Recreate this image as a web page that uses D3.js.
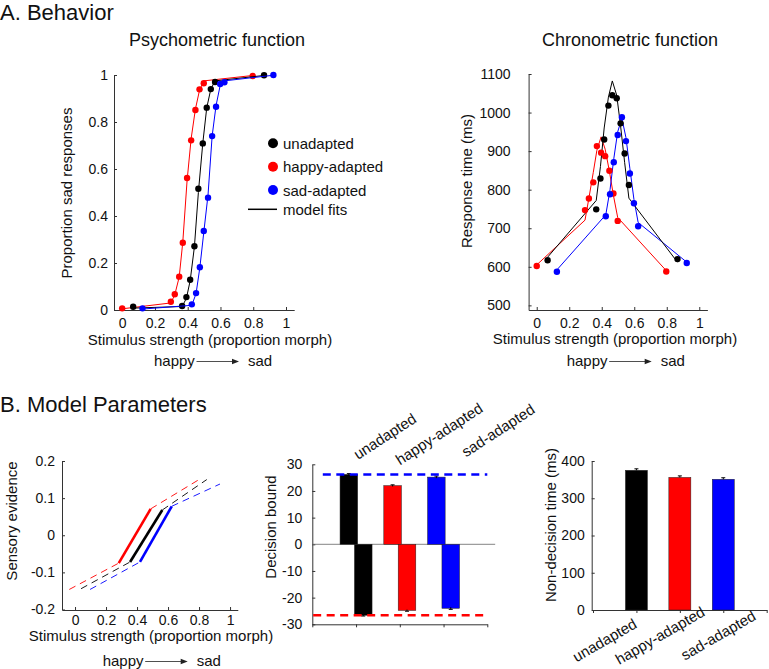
<!DOCTYPE html>
<html><head><meta charset="utf-8">
<script src="https://cdn.jsdelivr.net/npm/d3@7"></script>
<style>
body{margin:0;background:#fff}
svg{display:block}
text{font-family:"Liberation Sans",Arial,Helvetica,sans-serif;fill:#111}
</style>
</head><body>
<svg id="c" width="769" height="669"></svg>
<script>
// ---------------- DATA ----------------
const conditions = ["unadapted", "happy-adapted", "sad-adapted"];
const condColors = ["#000000", "#ff0000", "#0000ff"];

// Psychometric function (stimulus level, proportion sad, model fit)
const psychX_unadapted = [0.067, 0.366, 0.392, 0.415, 0.441, 0.465, 0.492, 0.516, 0.541, 0.567, 0.866];
const psychY_unadapted = [0.014, 0.017, 0.055, 0.129, 0.271, 0.516, 0.709, 0.861, 0.940, 0.970, 0.999];
const psychFit_unadapted = [0.008, 0.015, 0.050, 0.125, 0.270, 0.500, 0.710, 0.860, 0.940, 0.975, 0.998];

const psychX_happy = [0.000, 0.297, 0.321, 0.348, 0.370, 0.396, 0.421, 0.447, 0.472, 0.498, 0.797];
const psychY_happy = [0.007, 0.035, 0.067, 0.142, 0.286, 0.562, 0.722, 0.851, 0.939, 0.965, 0.996];
const psychFit_happy = [0.005, 0.030, 0.065, 0.140, 0.290, 0.550, 0.730, 0.855, 0.935, 0.975, 0.998];

const psychX_sad = [0.124, 0.425, 0.451, 0.474, 0.498, 0.524, 0.549, 0.573, 0.598, 0.624, 0.923];
const psychY_sad = [0.007, 0.024, 0.072, 0.182, 0.336, 0.478, 0.740, 0.865, 0.962, 0.969, 1.000];
const psychFit_sad = [0.004, 0.020, 0.070, 0.180, 0.330, 0.490, 0.740, 0.870, 0.955, 0.975, 0.999];

// Chronometric function (response time, ms)
const chronoY_unadapted = [617, 749, 829, 930, 1018, 1045, 1037, 972, 894, 812, 620];
const chronoFit_unadapted = [625, 772, 860, 960, 1040, 1082, 1045, 965, 870, 778, 612];
const chronoY_happy = [602, 747, 777, 819, 913, 896, 887, 849, 790, 719, 588];
const chronoFit_happy = [605, 721, 778, 845, 902, 937, 905, 848, 785, 728, 590];
const chronoY_sad = [587, 731, 788, 871, 942, 988, 926, 842, 765, 705, 610];
const chronoFit_sad = [592, 735, 800, 880, 950, 985, 935, 855, 775, 715, 612];

// Sensory evidence (piecewise: dashed, solid, dashed)
const sensX_unadapted = [0.039, 0.355, 0.563, 0.850];
const sensY_unadapted = [-0.144, -0.072, 0.068, 0.150];
const sensX_happy = [-0.037, 0.282, 0.488, 0.800];
const sensY_happy = [-0.146, -0.075, 0.071, 0.150];
const sensX_sad = [0.097, 0.419, 0.624, 0.935];
const sensY_sad = [-0.146, -0.072, 0.078, 0.138];

// Decision bounds
const boundUpper = [26.2, 22.0, 25.2];
const boundLower = [-26.6, -24.8, -24.0];
const boundErr = [0.3, 0.3, 0.4];
const boundRefUpper = 26.2;
const boundRefLower = -26.6;

// Non-decision time (ms)
const nonDecision = [375, 356, 351];
const nonDecisionErr = [4, 4, 4];

// Tick labels
const psychXTicks = [0, 0.2, 0.4, 0.6, 0.8, 1];
const psychYTicks = [0, 0.2, 0.4, 0.6, 0.8, 1];
const chronoYTicks = [500, 600, 700, 800, 900, 1000, 1100];
const sensYTicks = [-0.2, -0.1, 0, 0.1, 0.2];
const boundYTicks = [-30, -20, -10, 0, 10, 20, 30];
const ndYTicks = [0, 100, 200, 300, 400];

// ---------------- DRAW ----------------
const svg = d3.select("#c");
const FS = 15, TFS = 14;

function styleAxis(g) {
  g.select(".domain").attr("stroke", "#333").attr("stroke-width", 1);
  g.selectAll(".tick line").attr("stroke", "#333");
  g.selectAll(".tick text").attr("font-size", TFS).attr("fill", "#111")
    .attr("font-family", "'Liberation Sans',Arial,sans-serif");
}
const fmt = d => String(d);

function text(x, y, s, size, anchor, rot) {
  const t = svg.append("text").attr("font-size", size).attr("text-anchor", anchor || "start").text(s);
  if (rot) t.attr("transform", `translate(${x},${y}) rotate(${rot})`);
  else t.attr("x", x).attr("y", y);
  return t;
}
function happySad(x0, yb) {
  text(x0, yb, "happy", FS);
  svg.append("line").attr("x1", x0 + 42.5).attr("x2", x0 + 80).attr("y1", yb - 4.5).attr("y2", yb - 4.5)
    .attr("stroke", "#222").attr("stroke-width", 0.8);
  svg.append("path").attr("d", `M${x0 + 85},${yb - 4.5} L${x0 + 78},${yb - 7.2} L${x0 + 78},${yb - 1.8} Z`).attr("fill", "#222");
  text(x0 + 94, yb, "sad", FS);
}

// Section titles
text(0, 20, "A. Behavior", 22);
text(0, 412, "B. Model Parameters", 22);

// ===== A1: Psychometric =====
const xP = d3.scaleLinear().domain([-0.05, 1.05]).range([114, 294.2]);
const yP = d3.scaleLinear().domain([0, 1]).range([310, 75]);
text(217, 46, "Psychometric function", 18, "middle");
svg.append("g").attr("transform", "translate(0,310)")
  .call(d3.axisBottom(xP).tickValues(psychXTicks).tickFormat(fmt).tickSizeInner(-3).tickSizeOuter(0).tickPadding(8))
  .call(styleAxis);
svg.append("g").attr("transform", "translate(114,0)")
  .call(d3.axisLeft(yP).tickValues(psychYTicks).tickFormat(fmt).tickSizeInner(-3).tickSizeOuter(0).tickPadding(6))
  .call(styleAxis);
text(72, 193, "Proportion sad responses", FS, "middle", -90);
text(210, 345, "Stimulus strength (proportion morph)", FS, "middle");
happySad(154, 366);

const psychSets = [
  [psychX_unadapted, psychY_unadapted, psychFit_unadapted],
  [psychX_happy, psychY_happy, psychFit_happy],
  [psychX_sad, psychY_sad, psychFit_sad]
];
const lineP = d3.line().x(d => xP(d[0])).y(d => yP(d[1]));
[1, 0, 2].forEach(i => {
  const [xs, ys, fs] = psychSets[i];
  svg.append("path").attr("d", lineP(xs.map((x, k) => [x, fs[k]])))
    .attr("fill", "none").attr("stroke", condColors[i]).attr("stroke-width", 1);
  svg.append("g").selectAll("circle").data(xs.map((x, k) => [x, ys[k]])).join("circle")
    .attr("cx", d => xP(d[0])).attr("cy", d => yP(d[1])).attr("r", 3.2).attr("fill", condColors[i]);
});

// legend
const legY = [143.3, 166.7, 190];
conditions.forEach((c, i) => {
  svg.append("circle").attr("cx", 273).attr("cy", legY[i]).attr("r", 5).attr("fill", condColors[i]);
  text(283, legY[i] + 5.5, c, FS);
});
svg.append("line").attr("x1", 248).attr("x2", 277).attr("y1", 209.3).attr("y2", 209.3).attr("stroke", "#000").attr("stroke-width", 1.5);
text(283, 214.5, "model fits", FS);

// ===== A2: Chronometric =====
const xC = d3.scaleLinear().domain([-0.05, 1.05]).range([528.6, 707.4]);
const yC = d3.scaleLinear().domain([488, 1100]).range([310, 74]);
text(630, 46, "Chronometric function", 18, "middle");
svg.append("g").attr("transform", "translate(0,310)")
  .call(d3.axisBottom(xC).tickValues(psychXTicks).tickFormat(fmt).tickSizeInner(-3).tickSizeOuter(0).tickPadding(8))
  .call(styleAxis);
svg.append("g").attr("transform", "translate(528.6,0)")
  .call(d3.axisLeft(yC).tickValues(chronoYTicks).tickFormat(fmt).tickSizeInner(-3).tickSizeOuter(0).tickPadding(18))
  .call(styleAxis);
text(472, 181, "Response time (ms)", FS, "middle", -90);
text(615, 344, "Stimulus strength (proportion morph)", FS, "middle");
happySad(566.7, 366);

const chronoSets = [
  [psychX_unadapted, chronoY_unadapted, chronoFit_unadapted],
  [psychX_happy, chronoY_happy, chronoFit_happy],
  [psychX_sad, chronoY_sad, chronoFit_sad]
];
const lineC = d3.line().x(d => xC(d[0])).y(d => yC(d[1]));
[1, 2, 0].forEach(i => {
  const [xs, ys, fs] = chronoSets[i];
  svg.append("path").attr("d", lineC(xs.map((x, k) => [x, fs[k]])))
    .attr("fill", "none").attr("stroke", condColors[i]).attr("stroke-width", 1);
});
[1, 2, 0].forEach(i => {
  const [xs, ys] = chronoSets[i];
  svg.append("g").selectAll("circle").data(xs.map((x, k) => [x, ys[k]])).join("circle")
    .attr("cx", d => xC(d[0])).attr("cy", d => yC(d[1])).attr("r", 3.2).attr("fill", condColors[i]);
});

// ===== B1: Sensory evidence =====
const xS = d3.scaleLinear().domain([-0.084, 1.05]).range([62, 237.8]);
const yS = d3.scaleLinear().domain([-0.2, 0.2]).range([609.5, 461]);
svg.append("g").attr("transform", "translate(0,610)")
  .call(d3.axisBottom(xS).tickValues(psychXTicks).tickFormat(fmt).tickSizeInner(-3).tickSizeOuter(0).tickPadding(5))
  .call(styleAxis);
svg.append("g").attr("transform", "translate(62,0)")
  .call(d3.axisLeft(yS).tickValues(sensYTicks).tickFormat(fmt).tickSizeInner(-3).tickSizeOuter(0).tickPadding(7))
  .call(styleAxis);
text(17, 521, "Sensory evidence", FS, "middle", -90);
text(151, 641, "Stimulus strength (proportion morph)", FS, "middle");
happySad(102.7, 666);

const sensSets = [[sensX_unadapted, sensY_unadapted], [sensX_happy, sensY_happy], [sensX_sad, sensY_sad]];
sensSets.forEach(([xs, ys], i) => {
  const seg = (a, b, dashed) => svg.append("line")
    .attr("x1", xS(xs[a])).attr("y1", yS(ys[a])).attr("x2", xS(xs[b])).attr("y2", yS(ys[b]))
    .attr("stroke", condColors[i]).attr("stroke-width", dashed ? 0.9 : 2.6)
    .attr("stroke-dasharray", dashed ? "7,5" : null);
  seg(0, 1, true); seg(2, 3, true); seg(1, 2, false);
});

// ===== B2: Decision bound =====
const xB = d3.scaleLinear().domain([0, 4]).range([312.3, 487.3]);
const yB = d3.scaleLinear().domain([-30, 30]).range([624.3, 464.3]);
svg.append("g").attr("transform", "translate(0,624.3)")
  .call(d3.axisBottom(xB).tickValues([0, 1, 2, 3, 4]).tickFormat("").tickSizeInner(3).tickSizeOuter(0))
  .call(styleAxis);
svg.append("g").attr("transform", "translate(312.3,0)")
  .call(d3.axisLeft(yB).tickValues(boundYTicks).tickFormat(fmt).tickSizeInner(-3).tickSizeOuter(0).tickPadding(10))
  .call(styleAxis);
svg.append("line").attr("x1", xB(0)).attr("x2", xB(4.18)).attr("y1", yB(0)).attr("y2", yB(0))
  .attr("stroke", "#666").attr("stroke-width", 0.8);
text(276, 527, "Decision bound", FS, "middle", -90);

const bw = 17.6;
conditions.forEach((c, i) => {
  const cx = xB(i + 1);
  svg.append("rect").attr("x", cx - 16).attr("width", bw)
    .attr("y", yB(boundUpper[i])).attr("height", yB(0) - yB(boundUpper[i]))
    .attr("fill", condColors[i]).attr("stroke", "#222").attr("stroke-width", 0.5);
  svg.append("rect").attr("x", cx - 1.6).attr("width", bw)
    .attr("y", yB(0)).attr("height", yB(boundLower[i]) - yB(0))
    .attr("fill", condColors[i]).attr("stroke", "#222").attr("stroke-width", 0.5);
  [[cx - 16 + bw / 2, boundUpper[i]], [cx - 1.6 + bw / 2, boundLower[i]]].forEach(([ex, v]) => {
    svg.append("line").attr("x1", ex).attr("x2", ex).attr("y1", yB(v - boundErr[i])).attr("y2", yB(v + boundErr[i]))
      .attr("stroke", "#000").attr("stroke-width", 1);
    svg.append("line").attr("x1", ex - 2).attr("x2", ex + 2).attr("y1", yB(v + Math.sign(v) * boundErr[i])).attr("y2", yB(v + Math.sign(v) * boundErr[i]))
      .attr("stroke", "#000").attr("stroke-width", 1);
  });
});
svg.append("line").attr("x1", xB(0.24)).attr("x2", xB(4)).attr("y1", yB(boundRefUpper)).attr("y2", yB(boundRefUpper))
  .attr("stroke", condColors[2]).attr("stroke-width", 2.4).attr("stroke-dasharray", "8,5.5");
svg.append("line").attr("x1", xB(0.02)).attr("x2", xB(4)).attr("y1", yB(boundRefLower)).attr("y2", yB(boundRefLower))
  .attr("stroke", condColors[1]).attr("stroke-width", 2.4).attr("stroke-dasharray", "8,5.5");

const boundLabelPos = [[358, 460], [400, 465.5], [466, 457.5]];
conditions.forEach((c, i) => text(boundLabelPos[i][0], boundLabelPos[i][1], c, FS, "start", -33));

// ===== B3: Non-decision time =====
const xN = d3.scaleLinear().domain([0, 4]).range([593, 766.7]);
const yN = d3.scaleLinear().domain([0, 400]).range([610, 461]);
svg.append("g").attr("transform", "translate(0,610)")
  .call(d3.axisBottom(xN).tickValues([0, 1, 2, 3, 4]).tickFormat("").tickSizeInner(3).tickSizeOuter(0))
  .call(styleAxis);
svg.append("g").attr("transform", "translate(591.7,0)")
  .call(d3.axisLeft(yN).tickValues(ndYTicks).tickFormat(fmt).tickSizeInner(-3).tickSizeOuter(0).tickPadding(7))
  .call(styleAxis);
text(556, 525, "Non-decision time (ms)", FS, "middle", -90);
const nbw = 22;
conditions.forEach((c, i) => {
  const cx = xN(i + 1);
  svg.append("rect").attr("x", cx - nbw / 2).attr("width", nbw)
    .attr("y", yN(nonDecision[i])).attr("height", yN(0) - yN(nonDecision[i]))
    .attr("fill", condColors[i]).attr("stroke", "#222").attr("stroke-width", 0.5);
  svg.append("line").attr("x1", cx).attr("x2", cx).attr("y1", yN(nonDecision[i])).attr("y2", yN(nonDecision[i] + nonDecisionErr[i]))
    .attr("stroke", "#000");
  svg.append("line").attr("x1", cx - 2).attr("x2", cx + 2).attr("y1", yN(nonDecision[i] + nonDecisionErr[i])).attr("y2", yN(nonDecision[i] + nonDecisionErr[i]))
    .attr("stroke", "#000");
});
const ndLabelPos = [[638, 627], [706, 615], [757, 619]];
conditions.forEach((c, i) => text(ndLabelPos[i][0], ndLabelPos[i][1], c, FS, "end", -30));
</script>
</body></html>
